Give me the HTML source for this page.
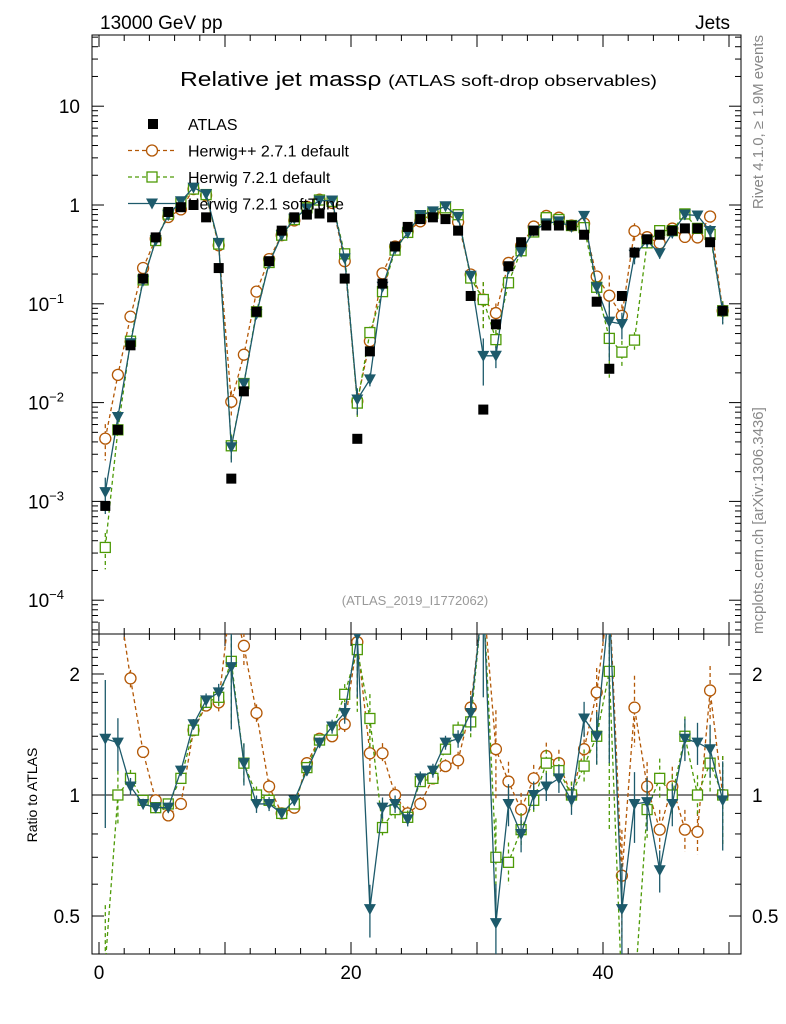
<!DOCTYPE html>
<html><head><meta charset="utf-8"><style>
html,body{margin:0;padding:0;background:#fff;overflow:hidden;width:786px;height:1024px}
svg{display:block}
svg text{font-family:"Liberation Sans","DejaVu Sans",sans-serif}
</style></head><body>
<svg id="c" width="786" height="1024" xmlns="http://www.w3.org/2000/svg">
<defs>
<clipPath id="cm"><rect x="92" y="35" width="649" height="599"/></clipPath>
<clipPath id="cr"><rect x="92" y="634" width="649" height="320"/></clipPath>
</defs>
<text x="100" y="29" font-size="19">13000 GeV pp</text>
<text x="730" y="29" font-size="19" text-anchor="end">Jets</text>
<text x="180" y="86" font-size="20" textLength="477" lengthAdjust="spacingAndGlyphs">Relative jet massρ <tspan font-size="16">(ATLAS soft-drop observables)</tspan></text>
<text x="415" y="605" font-size="13" fill="#999" text-anchor="middle">(ATLAS_2019_I1772062)</text>
<text transform="translate(763,35) rotate(-90)" font-size="15" fill="#888" text-anchor="end">Rivet 4.1.0, ≥ 1.9M events</text>
<text transform="translate(763,634) rotate(-90)" font-size="15" fill="#888">mcplots.cern.ch [arXiv:1306.3436]</text>
<text transform="translate(37,795) rotate(-90)" font-size="14" text-anchor="middle">Ratio to ATLAS</text>
<g id="axes"></g>
<g id="marks"></g>
<g id="legend"></g>
</svg>
<script>
const bins = Array.from({length:50},(_, i)=>i+0.5);
const atlas = [9e-4,5.3e-3,0.038,0.18,0.47,0.85,0.95,1.0,0.75,0.23,1.7e-3,0.013,0.083,0.27,0.55,0.75,0.8,0.82,0.75,0.18,4.3e-3,0.033,0.16,0.38,0.6,0.72,0.75,0.72,0.55,0.12,8.5e-3,0.062,0.24,0.42,0.55,0.62,0.62,0.62,0.5,0.105,0.022,0.12,0.33,0.45,0.5,0.55,0.58,0.58,0.42,0.085];
const ratioHpp = [4.8,3.6,1.95,1.28,0.97,0.89,0.95,1.45,1.67,1.7,6,2.35,1.6,1.05,0.9,0.93,1.2,1.38,1.4,1.5,2.4,1.27,1.27,1.0,0.9,0.95,1.1,1.18,1.22,1.65,13,1.3,1.08,0.92,1.1,1.25,1.2,1.0,1.3,1.8,5.5,0.63,1.65,1.05,0.82,1.05,0.82,0.81,1.82,1.0];
const ratioH7 = [0.38,1.0,1.1,0.97,0.93,0.95,1.1,1.45,1.7,1.75,2.15,1.2,1.0,0.97,0.9,0.95,1.17,1.37,1.45,1.78,2.3,1.55,0.83,0.92,0.88,1.08,1.1,1.3,1.45,1.52,13,0.7,0.68,0.82,0.97,1.2,1.15,1.0,1.18,1.4,2.03,0.27,0.13,0.92,1.1,1.0,1.4,1.0,1.2,1.0];
const ratioSoft = [1.38,1.35,1.05,0.95,0.93,0.93,1.15,1.5,1.72,1.8,2.08,1.2,0.95,0.95,0.9,0.97,1.15,1.35,1.48,1.6,2.5,0.52,0.93,0.95,0.87,1.1,1.15,1.35,1.38,1.6,3.5,0.48,0.95,0.8,1.0,1.05,1.1,0.97,1.55,1.4,3.0,0.52,0.95,0.96,0.65,0.95,1.38,1.35,1.3,0.97];
const relErr = [0.4,0.15,0.05,0.03,0.03,0.03,0.03,0.03,0.04,0.05,0.3,0.12,0.05,0.04,0.03,0.03,0.03,0.03,0.04,0.06,0.3,0.15,0.06,0.05,0.04,0.04,0.04,0.04,0.05,0.1,0.5,0.25,0.12,0.1,0.08,0.08,0.08,0.08,0.1,0.15,0.6,0.3,0.2,0.15,0.12,0.12,0.12,0.12,0.15,0.25];
const mainTicks = [1e-4,1e-3,1e-2,1e-1,1,10];
const mainTickLabels = [["10","−4"],["10","−3"],["10","−2"],["10","−1"],["1",""],["10",""]];
const ratioTicks = [0.5,1,2];
const xTicks = [0,20,40];

const NS="http://www.w3.org/2000/svg";
const L=92,R=741,T=35,M=634,B=954;
const X=v=>99+v*12.6;
const Y=v=>205-98.8*Math.log10(v);
const YR=v=>795-402*Math.log10(v);
const clampY=(y,lo,hi)=>Math.max(lo,Math.min(hi,y));
function mk(tag,attrs,parent){const e=document.createElementNS(NS,tag);for(const k in attrs)e.setAttribute(k,attrs[k]);parent.appendChild(e);return e;}
const axes=document.getElementById('axes'),marks=document.getElementById('marks'),leg=document.getElementById('legend');

let f1=mk('rect',{x:L,y:T,width:R-L,height:M-T,fill:'none',stroke:'#000','stroke-width':1},axes);


let f2=mk('rect',{x:L,y:M,width:R-L,height:B-M,fill:'none',stroke:'#000','stroke-width':1},axes);


let one=mk('line',{x1:L,x2:R,y1:YR(1),y2:YR(1),stroke:'#000'},axes);



for(let d=-5;d<=1;d++){for(let m=1;m<10;m++){const v=m*Math.pow(10,d);const y=Y(v);if(y<T||y>M)continue;const len=m==1?12:6;
mk('line',{x1:L,x2:L+len,y1:y,y2:y,stroke:'#000'},axes);mk('line',{x1:R,x2:R-len,y1:y,y2:y,stroke:'#000'},axes);}}
mainTicks.forEach((v,i)=>{const t=mk('text',{x:80,y:Y(v)+7,'font-size':19,'text-anchor':'end'},axes);


t.textContent=mainTickLabels[i][0];
if(mainTickLabels[i][1]){t.setAttribute('x',64);const s=mk('tspan',{'font-size':13,dy:-8},t);s.textContent=mainTickLabels[i][1];}});
for(let v=0.4;v<=2.5;v+=0.1){const y=YR(v);if(y<M||y>B)continue;const maj=ratioTicks.some(r=>Math.abs(r-v)<1e-6);const len=maj?12:6;
mk('line',{x1:L,x2:L+len,y1:y,y2:y,stroke:'#000'},axes);mk('line',{x1:R,x2:R-len,y1:y,y2:y,stroke:'#000'},axes);}
ratioTicks.forEach(v=>{[[80,'end'],[752,'start']].forEach(([x,a])=>{const t=mk('text',{x:x,y:YR(v)+7,'font-size':19,'text-anchor':a},axes);


t.textContent=v;});});
for(let v=0;v<=50;v+=2){const x=X(v);const maj=v%10==0;const len=maj?12:6;
[[T,1],[M,-1],[M,1],[B,-1]].forEach(([y0,s])=>mk('line',{x1:x,x2:x,y1:y0,y2:y0+s*len,stroke:'#000'},axes));}
xTicks.forEach(v=>{const t=mk('text',{x:X(v),y:979,'font-size':19,'text-anchor':'middle'},axes);


t.textContent=v;});

const series=[
 {name:'herwigpp',r:ratioHpp,c:'#b35806',dash:'4,3',mk:'circle'},
 {name:'herwig7-default',r:ratioH7,c:'#4d9a06',dash:'4,3',mk:'square'},
 {name:'herwig7-soft-tune',r:ratioSoft,c:'#1d5a6b',dash:'',mk:'tri'}];
function marker(type,x,y,c,g){
 if(type=='circle')return mk('circle',{cx:x,cy:y,r:5.5,fill:'#fff',stroke:c,'stroke-width':1.3},g);
 if(type=='square')return mk('rect',{x:x-5,y:y-5,width:10,height:10,fill:'#fff',stroke:c,'stroke-width':1.3},g);
 return mk('path',{d:`M${x-6},${y-5}L${x+6},${y-5}L${x},${y+6}Z`,fill:c},g);}
function drawPanel(clip,yraw,lo,hi,vals,s,tag){
 const yf=v=>clampY(yraw(v),lo-40,hi+40);
 const g=mk('g',{'clip-path':`url(#${clip})`},marks);
 
 
 const pts=bins.map((b,i)=>[X(b),yf(vals[i])]);
 const pl=mk('polyline',{points:pts.map(p=>p.join(',')).join(' '),fill:'none',stroke:s.c,'stroke-width':1.3,'stroke-dasharray':s.dash},g);
 
 
 bins.forEach((b,i)=>{const v=vals[i];const e=relErr[i];const x=X(b);
  mk('line',{x1:x,x2:x,y1:yf(v*(1+e)),y2:yf(Math.max(v*(1-e),1e-9)),stroke:s.c,'stroke-width':1.3,'stroke-dasharray':s.dash},g);
  const y=yraw(v);if(y<lo-10||y>hi+10)return;
  const m=marker(s.mk,x,y,s.c,g);
  
  });
}
series.forEach(s=>{drawPanel('cm',Y,T,M,atlas.map((a,i)=>a*s.r[i]),s,'main');drawPanel('cr',YR,M,B,s.r,s,'ratio');});
const gd=mk('g',{'clip-path':'url(#cm)'},marks);


bins.forEach((b,i)=>{const r=mk('rect',{x:X(b)-5,y:Y(atlas[i])-5,width:10,height:10,fill:'#000'},gd);

});

const entries=[['ATLAS',null],['Herwig++ 2.7.1 default',series[0]],['Herwig 7.2.1 default',series[1]],['Herwig 7.2.1 softTune',series[2]]];
entries.forEach(([lab,s],i)=>{const y=124+i*26.5;const g=mk('g',{},leg);


if(!s){mk('rect',{x:148,y:y-5,width:10,height:10,fill:'#000'},g);}
else{mk('line',{x1:128,x2:176,y1:y,y2:y,stroke:s.c,'stroke-width':1.3,'stroke-dasharray':s.dash},g);marker(s.mk,152,y,s.c,g);}
const t=mk('text',{x:188,y:y+6,'font-size':16},g);t.textContent=lab;});
</script>
</body></html>
